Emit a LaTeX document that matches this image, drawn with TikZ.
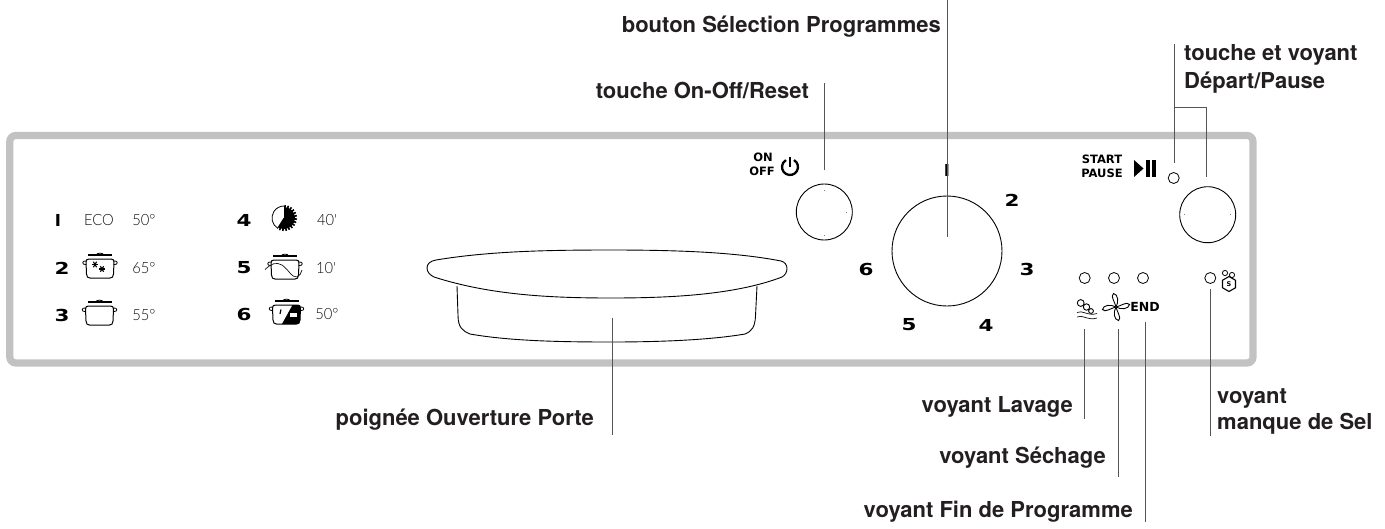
\documentclass[tikz,border=0pt]{standalone}
\usepackage{fontspec}
\setmainfont{TeX Gyre Heros}
\newfontfamily\technofont{DejaVu Sans}
\newfontfamily\thinfont{Lato Light}
\usetikzlibrary{shapes.geometric}
\definecolor{panelgray}{HTML}{C2C2C2}
\definecolor{leadgray}{HTML}{555555}
\definecolor{labelink}{HTML}{231F20}
\definecolor{thinink}{HTML}{111111}
\newcommand{\wide}[1]{\scalebox{1.3}[1]{#1}}
\newcommand{\narrow}[1]{\scalebox{.95}[1]{#1}}
\tikzset{
  lbl/.style={font=\bfseries\fontsize{22}{24}\selectfont,text=labelink,inner sep=0pt},
  lead/.style={draw=leadgray,line width=0.9pt},
  outline/.style={draw=black,line width=0.9pt},
  bignum/.style={font=\technofont\bfseries\fontsize{16.5}{17}\selectfont,text=black,inner sep=0pt},
  smallcaps/.style={font=\technofont\bfseries\fontsize{11.5}{12}\selectfont,text=black,inner sep=0pt},
  thin text/.style={font=\thinfont\fontsize{15.5}{16}\selectfont,text=thinink,inner sep=0pt},
  led/.style={circle,draw=black,line width=0.8pt,minimum size=11pt,inner sep=0pt},
  knob/.style={circle,draw=black,line width=0.9pt,inner sep=0pt},
  potline/.style={draw=black,line width=1pt,line join=round},
  pot/.pic={
    \path[potline] (-11,0) -- (11,0) .. controls (13,0) and (14,1) .. (14,3) -- (13.5,15) .. controls (13.5,18) and (12,19) .. (10,19) -- (-10,19) .. controls (-12,19) and (-13.5,18) .. (-13.5,15) -- (-14,3) .. controls (-14,1) and (-13,0) .. (-11,0) -- cycle;
    \path[potline,line width=1.3pt] (-12,-4) -- (12,-4);
    \path[potline,line width=.8pt] (-4,-4) .. controls (-3,-6.5) and (3,-6.5) .. (4,-4);
    \path[potline,line width=.8pt] (-13.8,2) .. controls (-18.5,1) and (-18.5,6.5) .. (-13.7,5.5);
    \path[potline,line width=.8pt] (13.8,2) .. controls (18.5,1) and (18.5,6.5) .. (13.7,5.5);
  },
  snow/.pic={
    \foreach \a in {0,60,120} {\draw[line width=1.1pt] (\a:3.2) -- (\a+180:3.2);}
  },
  blade/.pic={
    \draw[line width=.9pt,fill=white] (0,0) .. controls (-1,-5) and (-6,-11) .. (-2.5,-13.5) .. controls (2,-13) and (3,-5) .. (0,0) -- cycle;
  }
}
\begin{document}
\begin{tikzpicture}[x=1pt,y=-1pt]
\useasboundingbox (0,0) rectangle (1385,528);
% panel
\draw[panelgray,line width=7.2pt,rounded corners=6pt] (9.8,135.5) rectangle (1253,363);

% program list
\node[bignum] (n1) at (58,220) {I};
\node[bignum] (n2) at (62,268) {\wide{2}};
\node[bignum] (n3) at (62,315) {\wide{3}};
\node[bignum] (n4) at (244,220) {\wide{4}};
\node[bignum] (n5) at (244,268) {\wide{5}};
\node[bignum] (n6) at (244,314) {\wide{6}};
\node[thin text] (eco) at (99,220) {\narrow{ECO}};
\node[thin text] (t1) at (144,220) {\narrow{50°}};
\node[thin text] (t2) at (144,268) {\narrow{65°}};
\node[thin text] (t3) at (144,315) {\narrow{55°}};
\node[thin text] (t4) at (327,220) {\narrow{40'}};
\node[thin text] (t5) at (326,268) {\narrow{10'}};
\node[thin text] (t6) at (327,314) {\narrow{50°}};

% pots
\pic at (100,259) {pot};
\pic at (95,264.5) {snow};
\pic at (102,269) {snow};
\pic at (99.5,306) {pot};
\pic at (285,260) {pot};
\draw[line width=.7pt,draw=thinink] (265,269.5) .. controls (272,263) and (276,262) .. (282,265) .. controls (288,269) and (292,278) .. (297,277) .. controls (300,276) and (301,273) .. (302,270);
\pic at (286.5,305) {pot};
\fill[black] (292.5,305) -- (297.5,305) .. controls (299.5,305) and (300.5,306) .. (300.5,308) -- (300,320) .. controls (300,323) and (298.5,324) .. (296.5,324) -- (282,324) -- cycle;
\fill[white] (289.5,313) rectangle (296.5,317);
\draw[black,line width=1.2pt] (281,309.5) -- (280,314);

% pie
\coordinate (pie) at (284,218);
\draw[line width=.8pt] (pie) -- ++(122:12) arc[start angle=122,end angle=270,radius=12];
\fill[black] (pie) -- ++(-90:11) arc[start angle=-90,end angle=122,radius=11] -- cycle;
\foreach \a in {-85,-70,...,120} {\draw[line width=1.6pt] (pie) ++(\a:10) -- ++(\a:3);}

% handle
\draw[outline] (436,260) .. controls (490,251) and (550,250) .. (611,250) .. controls (675,250) and (735,252) .. (781,261) .. controls (785,262) and (787,265) .. (787,268.5) .. controls (787,272) and (785,275.5) .. (782,277) .. controls (735,295) and (670,298) .. (611,298) .. controls (550,298) and (490,295) .. (434,277) .. controls (430,275) and (427,272) .. (427,268) .. controls (427,264) and (430,261) .. (436,260) -- cycle;
\draw[outline] (457,286) -- (458,315) .. controls (458,328) and (463,331) .. (470,334) .. controls (510,341) and (560,342) .. (611,342) .. controls (660,342) and (710,340) .. (745,334) .. controls (752,331) and (755,327) .. (755.5,316) -- (757,286);

% on/off
\node[smallcaps] (on) at (763,157) {ON};
\node[smallcaps] (off) at (762,171) {OFF};
\coordinate (pw) at (790,167);
\draw[line width=2.3pt] (pw) ++(-60:8) arc[start angle=-60,end angle=240,radius=8];
\draw[line width=2.3pt] (pw) ++(0,-10) -- ++(0,9.5);
\node[knob,minimum size=56pt] (onbtn) at (824.3,212) {};
\foreach \dx/\dy in {0/-22,22/0,0/23} {\fill[gray] (onbtn) ++(\dx-.4,\dy-.4) rectangle ++(.8,.8);}

% dial
\node[knob,minimum size=110pt] (dial) at (947,251) {};
\node[bignum] (d1) at (947,170.5) {I};
\node[bignum] (d2) at (1012,200) {\wide{2}};
\node[bignum] (d3) at (1027,269) {\wide{3}};
\node[bignum] (d4) at (986,325) {\wide{4}};
\node[bignum] (d5) at (909,325) {\wide{5}};
\node[bignum] (d6) at (866,269) {\wide{6}};

% start / pause
\node[smallcaps] (start) at (1102,159) {START};
\node[smallcaps] (pause) at (1102,173) {PAUSE};
\fill[black] (1134,160) -- (1143.5,168.5) -- (1134,177) -- cycle;
\fill[black] (1146,160) rectangle (1149.5,177);
\fill[black] (1152,160) rectangle (1155.5,177);
\node[led] (ledstart) at (1173.7,178) {};
\node[knob,minimum size=56pt] (startbtn) at (1207.7,214.7) {};
\foreach \dx in {-23,23} {\fill[gray] (startbtn) ++(\dx-.4,-.4) rectangle ++(.8,.8);}

% LEDs
\node[led] (ledwash) at (1084.7,278) {};
\node[led] (leddry) at (1114,278) {};
\node[led] (ledend) at (1143,278) {};
\node[led] (ledsalt) at (1210.3,278) {};

% wash icon
\draw[line width=.9pt] (1080.7,303) circle[radius=3.4];
\draw[line width=.9pt] (1086.5,307) circle[radius=3.2];
\draw[line width=.9pt] (1091,311) circle[radius=2.4];
\draw[line width=.7pt,draw=thinink] (1077,312.5) .. controls (1082,309.5) and (1088,316.5) .. (1097,313.5);
\draw[line width=.7pt,draw=thinink] (1077,317) .. controls (1082,314) and (1088,321) .. (1097,318);

% fan icon
\pic at (1116,307) {blade};
\pic[rotate=90] at (1116,307) {blade};
\pic[rotate=180] at (1116,307) {blade};
\pic[rotate=270] at (1116,307) {blade};

\node[smallcaps,font=\technofont\bfseries\fontsize{12.5}{13}\selectfont] (endtxt) at (1145,307) {END};

% salt icon
\node[regular polygon,regular polygon sides=6,shape border rotate=30,draw=black,line width=1.1pt,minimum size=15pt,inner sep=0pt,font=\technofont\bfseries\fontsize{6.5}{7}\selectfont] (salt) at (1229,284) {S};
\draw[line width=.8pt] (1225,273) circle[radius=2.6];
\draw[line width=.8pt] (1232,275) circle[radius=2.6];

% leader ends
\coordinate (a1) at (947,0);      \coordinate (a2) at (947,236.5);
\coordinate (b1) at (824.5,83);   \coordinate (b2) at (824.5,170);
\coordinate (c1) at (1174.5,44);  \coordinate (c2) at (1174.5,163);
\coordinate (c3) at (1174.5,107); \coordinate (c4) at (1206,107); \coordinate (c5) at (1206,177);
\coordinate (e1) at (1084.5,329); \coordinate (e2) at (1084.5,419);
\coordinate (f1) at (1118,329);   \coordinate (f2) at (1118,477);
\coordinate (g1) at (1145.5,322); \coordinate (g2) at (1145.5,522);
\coordinate (h1) at (1210.5,289); \coordinate (h2) at (1210.5,435.5);
\coordinate (i1) at (612.5,318);  \coordinate (i2) at (612.5,435);
\draw[lead] (a1) -- (a2);
\draw[lead] (b1) -- (b2);
\draw[lead] (c1) -- (c2);
\draw[lead] (c3) -- (c4) -- (c5);
\draw[lead] (e1) -- (e2);
\draw[lead] (f1) -- (f2);
\draw[lead] (g1) -- (g2);
\draw[lead] (h1) -- (h2);
\draw[lead] (i1) -- (i2);

% labels
\node[lbl,anchor=east] (l1) at (941,27) {bouton Sélection Programmes};
\node[lbl,anchor=east] (l2) at (809,90) {touche On-Off/Reset};
\node[lbl,anchor=west] (l3) at (1184,55) {touche et voyant};
\node[lbl,anchor=west] (l3b) at (1184,83) {Départ/Pause};
\node[lbl,anchor=east] (l4) at (594,420) {poignée Ouverture Porte};
\node[lbl,anchor=east] (l5) at (1073,407) {voyant Lavage};
\node[lbl,anchor=east] (l6) at (1106,458) {voyant Séchage};
\node[lbl,anchor=east] (l7) at (1133,512) {voyant Fin de Programme};
\node[lbl,anchor=west] (l8) at (1217,398) {voyant};
\node[lbl,anchor=west] (l8b) at (1217,424) {manque de Sel};
\end{tikzpicture}
\end{document}
